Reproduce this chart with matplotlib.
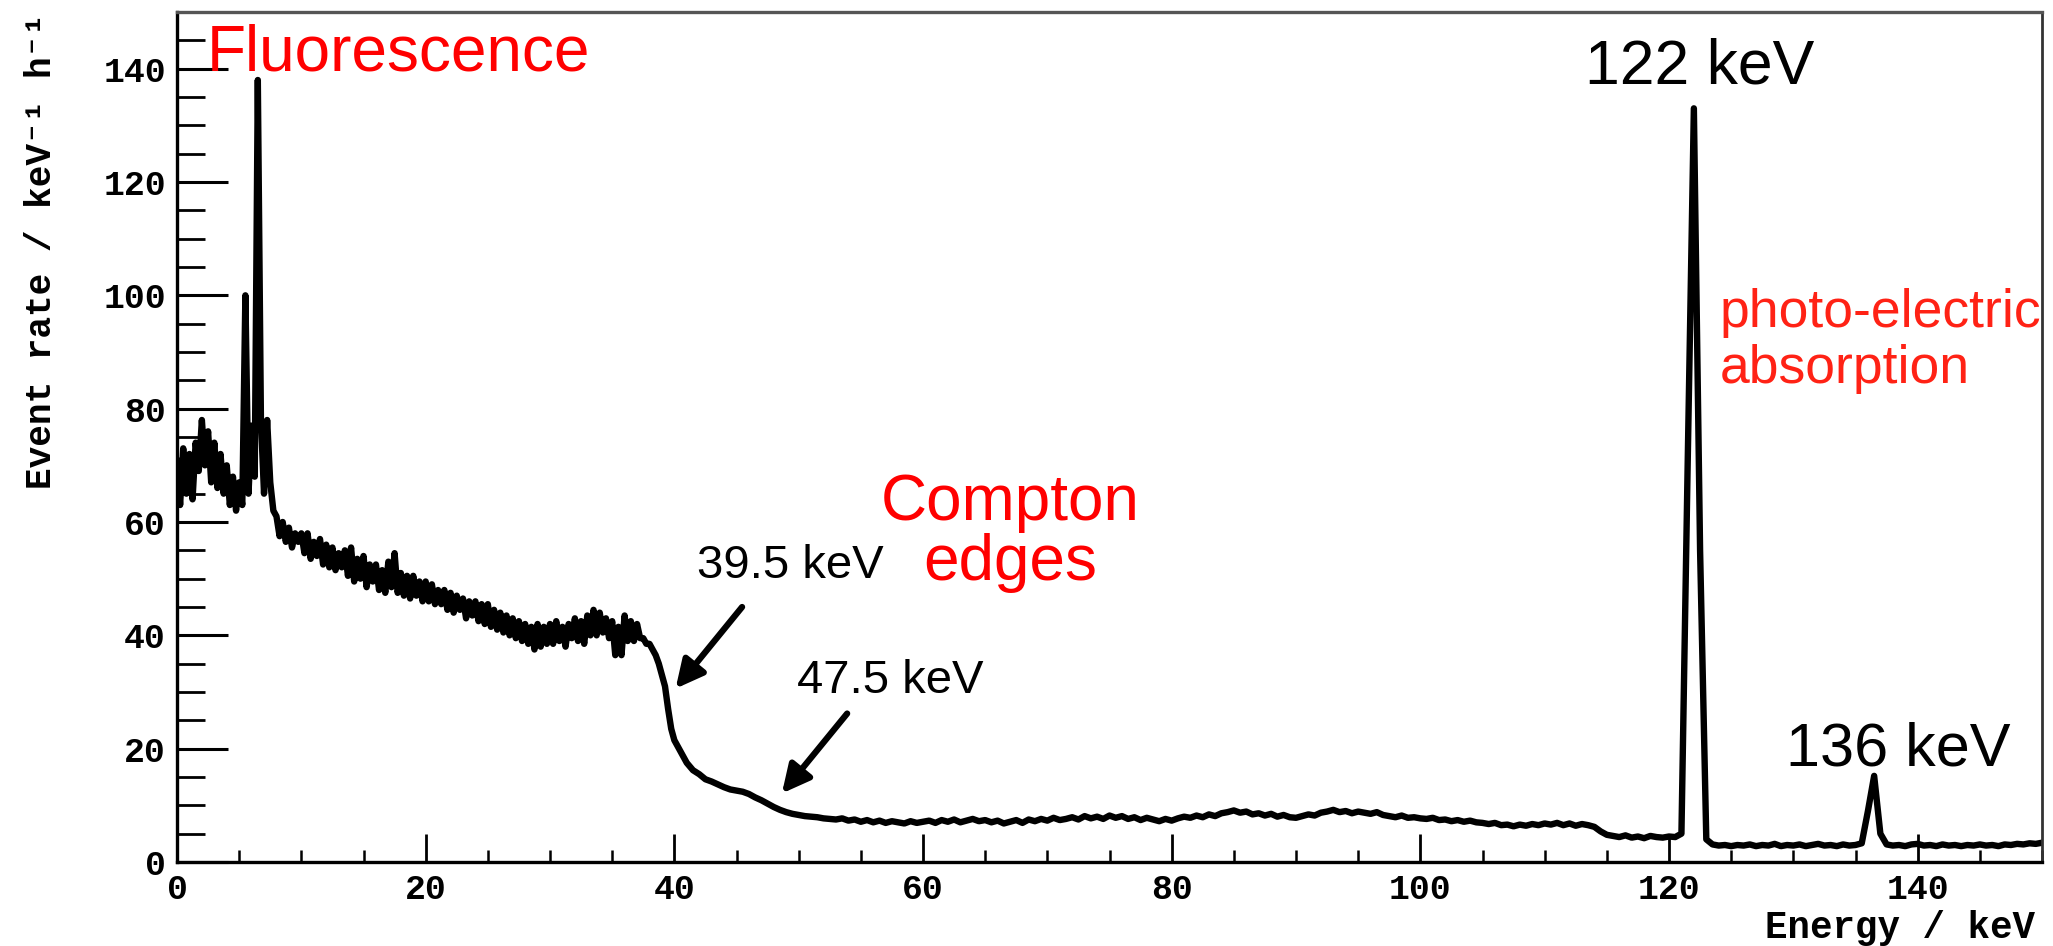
import numpy as np
import matplotlib
matplotlib.use("Agg")
import matplotlib.pyplot as plt
from matplotlib.ticker import MultipleLocator

# ---------------- data ----------------
LOW_STEP = 0.25   # keV bin step, 0 .. 40 keV
HIGH_STEP = 0.5   # keV bin step, 40.5 .. 150 keV

rate_low = [
    71, 63, 73, 65, 72, 64, 74, 69,            # 0 - 1.75
    78, 70, 76, 67, 74, 66, 72, 65,            # 2 - 3.75
    70, 63, 68, 62, 67, 63, 100, 65,           # 4 - 5.75
    77, 68, 138, 78, 65, 78, 67, 62,           # 6 - 7.75
    61, 57.5, 60, 56.5, 59, 55.5, 58, 56.5,    # 8 - 9.75
    58, 54.5, 58, 53.5, 56.5, 54, 57, 52.5,    # 10 - 11.75
    56, 52, 55.5, 51.5, 54.5, 52, 55, 50.5,    # 12 - 13.75
    55.5, 49.5, 53.5, 50, 54, 48.5, 52.5, 49.5,  # 14 - 15.75
    52.5, 48, 51.5, 47.5, 53, 48.5, 54.5, 47.5,  # 16 - 17.75
    51, 47, 50.5, 46.5, 50.5, 47, 49.5, 46,    # 18 - 19.75
    49.5, 46, 49, 45.5, 48, 45.5, 48, 44.5,    # 20 - 21.75
    47.5, 44, 47, 44.5, 46.5, 43, 46, 43.5,    # 22 - 23.75
    46, 42.5, 45.5, 42, 45.5, 41.5, 44.5, 41,  # 24 - 25.75
    44, 40.5, 43.5, 40, 43, 39.5, 42.5, 39,    # 26 - 27.75
    42, 38.5, 41.5, 37.5, 42, 38, 41.5, 38.5,  # 28 - 29.75
    42, 38.5, 42.5, 39, 41.5, 38, 42, 39.5,    # 30 - 31.75
    43, 39, 42.5, 38.5, 43.5, 40, 44.5, 40,    # 32 - 33.75
    44, 40.5, 43, 39.5, 42.5, 36.5, 41.5, 36.5,  # 34 - 35.75
    43.5, 39, 42.5, 39, 42, 39.5, 39.5, 38.5,  # 36 - 37.75
    38.5, 37.5, 36.5, 35, 33, 31, 27, 23.5,    # 38 - 39.75
    21.5,                                      # 40
]

rate_high = [
    19.5, 17.5, 16.2, 15.5, 14.6, 14.2, 13.7, 13.2, 12.8, 12.6,   # 40.5 - 45
    12.4, 12.0, 11.4, 10.9, 10.3, 9.7, 9.2, 8.8, 8.5, 8.3,        # 45.5 - 50
    8.1, 8.0, 7.9, 7.7, 7.6, 7.5, 7.7, 7.3, 7.5, 7.1,             # 50.5 - 55
    7.4, 7.0, 7.3, 6.9, 7.2, 7.0, 6.8, 7.2, 6.9, 7.1,             # 55.5 - 60
    7.3, 6.9, 7.4, 7.1, 7.5, 7.0, 7.3, 7.6, 7.2, 7.4,             # 60.5 - 65
    7.0, 7.3, 6.8, 7.1, 7.4, 6.9, 7.5, 7.2, 7.6, 7.3,             # 65.5 - 70
    7.8, 7.4, 7.6, 7.9, 7.5, 8.1, 7.7, 8.0, 7.6, 8.2,             # 70.5 - 75
    7.8, 8.1, 7.6, 7.9, 7.4, 7.8, 7.5, 7.2, 7.6, 7.3,             # 75.5 - 80
    7.7, 8.0, 7.8, 8.2, 7.9, 8.4, 8.1, 8.6, 8.8, 9.1,             # 80.5 - 85
    8.7, 8.9, 8.4, 8.6, 8.2, 8.5, 8.0, 8.3, 7.9, 7.8,             # 85.5 - 90
    8.1, 8.4, 8.2, 8.7, 8.9, 9.2, 8.8, 9.0, 8.6, 8.9,             # 90.5 - 95
    8.7, 8.5, 8.8, 8.3, 8.1, 7.9, 8.2, 7.8, 7.9, 7.7,             # 95.5 - 100
    7.6, 7.8, 7.4, 7.5, 7.2, 7.4, 7.1, 7.3, 7.0, 6.9,             # 100.5 - 105
    6.7, 6.9, 6.5, 6.6, 6.3, 6.6, 6.4, 6.7, 6.5, 6.8,             # 105.5 - 110
    6.6, 6.9, 6.5, 6.8, 6.4, 6.7, 6.5, 6.2, 5.4, 4.8,             # 110.5 - 115
    4.6, 4.4, 4.7, 4.3, 4.5, 4.2, 4.6, 4.4, 4.3, 4.5,             # 115.5 - 120
    4.4, 5.0, 70.0, 133.0, 55.0, 4.0, 3.1, 2.9, 3.0, 2.8,         # 120.5 - 125
    3.0, 2.9, 3.1, 2.8, 3.0, 2.9, 3.2, 2.8, 3.0, 2.9,             # 125.5 - 130
    3.1, 2.8, 3.0, 3.2, 2.9, 3.0, 2.8, 3.1, 2.9, 3.0,             # 130.5 - 135
    3.3, 9.0, 15.2, 5.0, 3.1, 2.9, 3.0, 2.8, 3.1, 3.2,            # 135.5 - 140
    2.9, 3.0, 2.8, 3.1, 2.9, 3.0, 2.8, 3.0, 2.9, 3.1,             # 140.5 - 145
    2.9, 3.0, 2.8, 3.1, 3.0, 3.2, 3.1, 3.3, 3.2, 3.4,             # 145.5 - 150
]

x_ticks = [0, 20, 40, 60, 80, 100, 120, 140]
y_ticks = [0, 20, 40, 60, 80, 100, 120, 140]

energy_low = LOW_STEP * np.arange(len(rate_low))
energy_high = 40.0 + HIGH_STEP * (1 + np.arange(len(rate_high)))
energy = np.concatenate([energy_low, energy_high])
rate = np.concatenate([np.array(rate_low, float), np.array(rate_high, float)])

# ---------------- figure ----------------
W, H = 2053, 946
fig = plt.figure(figsize=(W / 100, H / 100), dpi=100)
fig.patch.set_facecolor("white")
ax = fig.add_axes([177 / W, 84 / H, (2042 - 177) / W, (862 - 12) / H])

ax.plot(energy, rate, color="black", lw=4.6, solid_joinstyle="round",
        solid_capstyle="round")

ax.set_xlim(0, 150)
ax.set_ylim(0, 150)
ax.set_xticks(x_ticks)
ax.set_yticks(y_ticks)
ax.xaxis.set_minor_locator(MultipleLocator(5))
ax.yaxis.set_minor_locator(MultipleLocator(5))

mono = ["Liberation Mono", "DejaVu Sans Mono"]
ax.tick_params(axis="y", which="major", direction="in", length=37, width=2.2, pad=8)
ax.tick_params(axis="y", which="minor", direction="in", length=20, width=2.0)
ax.tick_params(axis="x", which="major", direction="in", length=20, width=2.0, pad=8)
ax.tick_params(axis="x", which="minor", direction="in", length=9, width=1.8)
for lab in ax.get_xticklabels() + ax.get_yticklabels():
    lab.set_fontfamily(mono)
    lab.set_fontweight("bold")
    lab.set_fontsize(25)

for side in ["left", "bottom"]:
    ax.spines[side].set_linewidth(2.4)
    ax.spines[side].set_color("black")
ax.spines["top"].set_linewidth(2.4)
ax.spines["top"].set_color("#555555")
ax.spines["right"].set_linewidth(2.0)
ax.spines["right"].set_color("#333333")

fig.text(42 / W, 1 - 251 / H, "Event rate / keV\u207b\u00b9 h\u207b\u00b9", rotation=90,
         ha="center", va="center", family=mono, weight="bold", size=26)
fig.text(2035 / W, 1 - 928 / H, "Energy / keV", ha="right", va="center",
         family=mono, weight="bold", size=27)

sans = ["Liberation Sans", "DejaVu Sans"]
red = "#ff0000"
ax.text(2.41, 139.7, "Fluorescence", color=red, size=46, ha="left",
        va="baseline", family=sans)
ax.text(122.5, 137.4, "122 keV", color="black", size=45, ha="center",
        va="baseline", family=sans)
ax.text(138.4, 17.1, "136 keV", color="black", size=44, ha="center",
        va="baseline", family=sans)
ax.text(124.1, 94.5, "photo-electric", color="#ff2215", size=38.5, ha="left",
        va="baseline", family=sans)
ax.text(124.1, 84.5, "absorption", color="#ff2215", size=38.5, ha="left",
        va="baseline", family=sans)
ax.text(67.0, 60.3, "Compton", color=red, size=46, ha="center",
        va="baseline", family=sans)
ax.text(67.0, 49.7, "edges", color=red, size=46, ha="center",
        va="baseline", family=sans)
ax.text(49.3, 50.1, "39.5 keV", color="black", size=34, ha="center",
        va="baseline", family=sans)
ax.text(57.4, 29.8, "47.5 keV", color="black", size=34, ha="center",
        va="baseline", family=sans)

arrow_kw = dict(arrowstyle="-|>", lw=4.5, color="black", mutation_scale=42,
                shrinkA=0, shrinkB=0)
ax.annotate("", xy=(40.1, 30.6), xytext=(45.45, 45.0), arrowprops=arrow_kw)
ax.annotate("", xy=(48.65, 12.1), xytext=(53.9, 26.2), arrowprops=arrow_kw)

fig.savefig("out.png", dpi=100, facecolor="white")
